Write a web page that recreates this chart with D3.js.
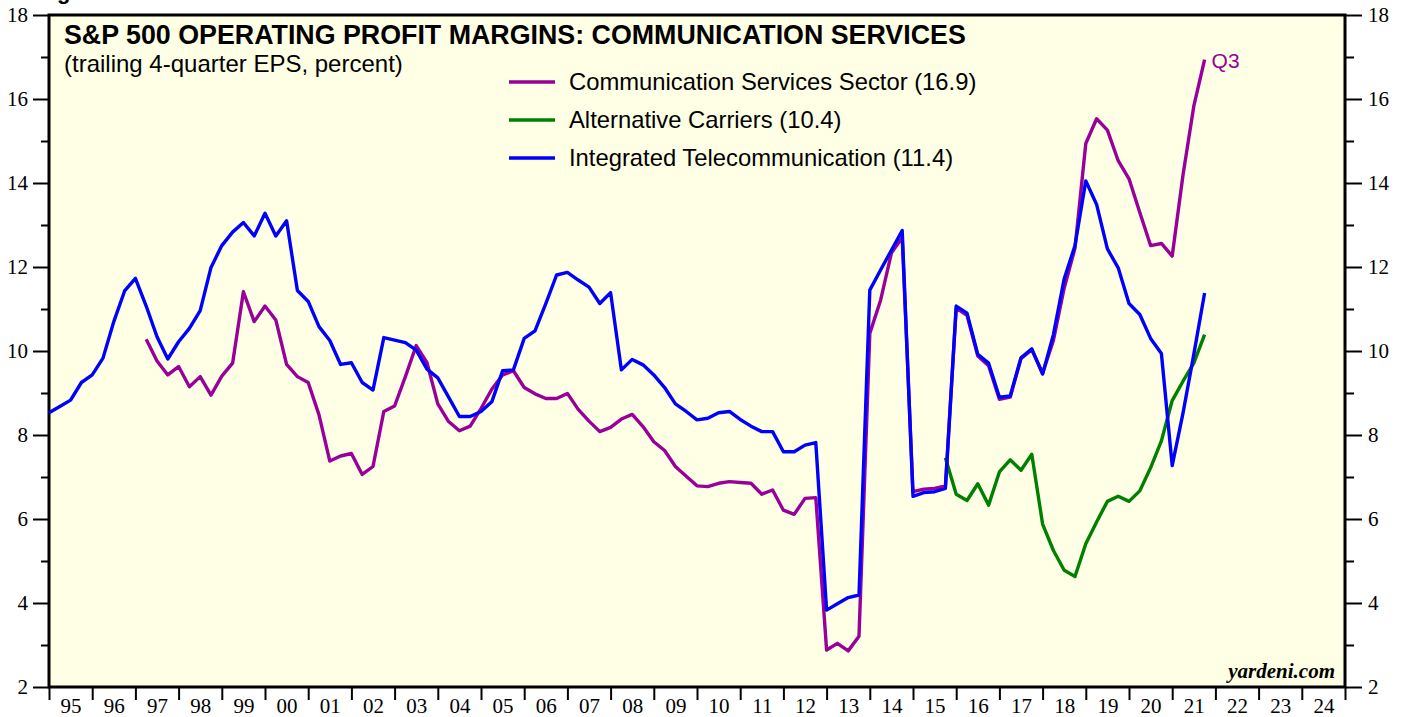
<!DOCTYPE html>
<html>
<head>
<meta charset="utf-8">
<script src="https://cdn.jsdelivr.net/npm/d3@7"></script>
<style>
  body { margin: 0; background: #fff; }
  svg { display: block; }
  .axis path { display: none; }
  .axis line { stroke: #000; stroke-width: 2px; }
  .axis text { font-family: "Liberation Serif", "Times New Roman", serif; font-size: 21px; fill: #000; }
</style>
</head>
<body>
<div id="chart"></div>
<script>
// quarterly data, each point plotted at the end of its quarter
const commStart = 1997.25;   // first point of Communication Services Sector
const commValues = [
  10.28, 9.76, 9.43, 9.63, 9.15, 9.39, 8.95, 9.40, 9.71, 11.41, 10.70, 11.07, 10.74,
  9.68, 9.39, 9.25, 8.48, 7.38, 7.50, 7.56, 7.06, 7.25, 8.56, 8.69, 9.39, 10.13,
  9.72, 8.74, 8.32, 8.10, 8.21, 8.63, 9.09, 9.43, 9.53, 9.13, 8.98, 8.87, 8.87,
  8.99, 8.61, 8.33, 8.08, 8.18, 8.38, 8.49, 8.20, 7.84, 7.63, 7.25, 7.02, 6.79,
  6.77, 6.85, 6.89, 6.87, 6.85, 6.59, 6.69, 6.21, 6.11, 6.49, 6.51, 2.88, 3.04,
  2.86, 3.21, 10.42, 11.21, 12.33, 12.70, 6.65, 6.71, 6.73, 6.79, 11.02, 10.85,
  9.88, 9.65, 8.85, 8.90, 9.82, 10.03, 9.47, 10.25, 11.50, 12.45, 14.94, 15.53,
  15.26, 14.53, 14.10, 13.30, 12.51, 12.56, 12.26, 14.19, 15.83, 16.94
];

const altStart = 2015.75;    // Alternative Carriers
const altValues = [
  7.46, 6.59, 6.44, 6.84, 6.33, 7.12, 7.41, 7.16, 7.54, 5.88, 5.25, 4.78, 4.63,
  5.41, 5.93, 6.42, 6.54, 6.42, 6.67, 7.22, 7.86, 8.82, 9.28, 9.71, 10.39
];

const telStart = 1995.0;     // Integrated Telecommunication
const telValues = [
  8.53, 8.68, 8.83, 9.25, 9.43, 9.83, 10.70, 11.43, 11.73, 11.07, 10.34, 9.81,
  10.22, 10.54, 10.96, 11.99, 12.51, 12.83, 13.06, 12.74, 13.28, 12.74, 13.10,
  11.44, 11.18, 10.58, 10.25, 9.68, 9.72, 9.25, 9.07, 10.32, 10.26, 10.20, 10.02,
  9.57, 9.36, 8.90, 8.44, 8.44, 8.56, 8.79, 9.53, 9.55, 10.30, 10.48, 11.13,
  11.81, 11.87, 11.69, 11.52, 11.13, 11.39, 9.55, 9.80, 9.67, 9.43, 9.13, 8.74,
  8.56, 8.36, 8.40, 8.53, 8.56, 8.37, 8.21, 8.08, 8.08, 7.60, 7.60, 7.76, 7.82,
  3.83, 3.98, 4.13, 4.19, 11.45, 11.93, 12.40, 12.87, 6.54, 6.63, 6.65, 6.73,
  11.07, 10.90, 9.92, 9.71, 8.90, 8.93, 9.84, 10.05, 9.45, 10.39, 11.72, 12.51,
  14.05, 13.49, 12.43, 11.98, 11.13, 10.87, 10.30, 9.94, 7.27, 8.52, 9.92, 11.38
];

const yearLabels = ["95","96","97","98","99","00","01","02","03","04","05","06","07","08","09",
  "10","11","12","13","14","15","16","17","18","19","20","21","22","23","24"];
const yMajor = [2, 4, 6, 8, 10, 12, 14, 16, 18];
const yMinor = [3, 5, 7, 9, 11, 13, 15, 17];

const legendItems = [
  { name: "Communication Services Sector (16.9)", color: "#990099" },
  { name: "Alternative Carriers (10.4)", color: "#008000" },
  { name: "Integrated Telecommunication (11.4)", color: "#0000ff" }
];

var width = 1405, height = 717;
var plotLeft = 49, plotRight = 1345, plotTop = 15, plotBottom = 687;

var svg = d3.select("#chart").append("svg")
  .attr("width", width)
  .attr("height", height);

var x = d3.scaleLinear().domain([1995, 2025]).range([plotLeft, plotRight]);
var y = d3.scaleLinear().domain([2, 18]).range([plotBottom, plotTop]);

// plot background
svg.append("rect")
  .attr("x", plotLeft).attr("y", plotTop)
  .attr("width", plotRight - plotLeft).attr("height", plotBottom - plotTop)
  .attr("fill", "#ffffe5");

// left axis
svg.append("g").attr("class", "axis")
  .attr("transform", "translate(" + plotLeft + ",0)")
  .call(d3.axisLeft(y).tickValues(yMajor).tickSize(16).tickPadding(5).tickFormat(d3.format("d")));
svg.append("g").attr("class", "axis")
  .attr("transform", "translate(" + plotLeft + ",0)")
  .call(d3.axisLeft(y).tickValues(yMinor).tickSize(8).tickFormat(""));

// right axis
svg.append("g").attr("class", "axis")
  .attr("transform", "translate(" + plotRight + ",0)")
  .call(d3.axisRight(y).tickValues(yMajor).tickSize(17).tickPadding(6).tickFormat(d3.format("d")));
svg.append("g").attr("class", "axis")
  .attr("transform", "translate(" + plotRight + ",0)")
  .call(d3.axisRight(y).tickValues(yMinor).tickSize(9).tickFormat(""));

// bottom axis: ticks at year boundaries, labels in between
svg.append("g").attr("class", "axis")
  .attr("transform", "translate(0," + plotBottom + ")")
  .call(d3.axisBottom(x).tickValues(d3.range(1995, 2026)).tickSize(13).tickFormat(""));
svg.append("g").attr("class", "axis x-labels")
  .attr("transform", "translate(0," + plotBottom + ")")
  .call(d3.axisBottom(x)
    .tickValues(yearLabels.map(function (d, i) { return 1995.5 + i; }))
    .tickSize(0).tickPadding(11)
    .tickFormat(function (d, i) { return yearLabels[i]; }));

// frame
svg.append("rect")
  .attr("x", plotLeft).attr("y", plotTop)
  .attr("width", plotRight - plotLeft).attr("height", plotBottom - plotTop)
  .attr("fill", "none")
  .attr("stroke", "#000")
  .attr("stroke-width", 3);

// lines
var line = d3.line()
  .x(function (d) { return x(d.t); })
  .y(function (d) { return y(d.v); });

function toPoints(start, values) {
  return values.map(function (v, i) { return { t: start + i * 0.25, v: v }; });
}

var series = [
  { data: toPoints(commStart, commValues), color: "#990099" },
  { data: toPoints(altStart, altValues), color: "#008000" },
  { data: toPoints(telStart, telValues), color: "#0000ff" }
];

svg.selectAll("path.series")
  .data(series)
  .enter().append("path")
  .attr("class", "series")
  .attr("d", function (d) { return line(d.data); })
  .attr("fill", "none")
  .attr("stroke", function (d) { return d.color; })
  .attr("stroke-width", 3.4)
  .attr("stroke-linejoin", "round");

// Q3 marker on last point
var lastComm = series[0].data[series[0].data.length - 1];
svg.append("text")
  .attr("x", x(lastComm.t) + 7)
  .attr("y", y(lastComm.v) + 8)
  .attr("font-family", "Liberation Sans, Arial, sans-serif")
  .attr("font-size", 21)
  .attr("fill", "#990099")
  .text("Q3");

// titles
svg.append("text")
  .attr("x", 57).attr("y", -1)
  .attr("font-family", "Liberation Sans, Arial, sans-serif")
  .attr("font-weight", "bold")
  .attr("font-size", 22)
  .text("g");

svg.append("text")
  .attr("x", 64).attr("y", 44)
  .attr("font-family", "Liberation Sans, Arial, sans-serif")
  .attr("font-weight", "bold")
  .attr("font-size", 26.8)
  .text("S&P 500 OPERATING PROFIT MARGINS: COMMUNICATION SERVICES");

svg.append("text")
  .attr("x", 64).attr("y", 72)
  .attr("font-family", "Liberation Sans, Arial, sans-serif")
  .attr("font-size", 24)
  .text("(trailing 4-quarter EPS, percent)");

// legend
var legend = svg.selectAll("g.legend")
  .data(legendItems)
  .enter().append("g")
  .attr("class", "legend")
  .attr("transform", function (d, i) { return "translate(509," + (82 + i * 38) + ")"; });

legend.append("line")
  .attr("x1", 0).attr("x2", 46)
  .attr("stroke", function (d) { return d.color; })
  .attr("stroke-width", 3.4);

legend.append("text")
  .attr("x", 60).attr("y", 8)
  .attr("font-family", "Liberation Sans, Arial, sans-serif")
  .attr("font-size", 23.8)
  .text(function (d) { return d.name; });

// source
svg.append("text")
  .attr("x", 1335).attr("y", 678)
  .attr("text-anchor", "end")
  .attr("font-family", "Liberation Serif, Times New Roman, serif")
  .attr("font-weight", "bold")
  .attr("font-style", "italic")
  .attr("font-size", 21)
  .text("yardeni.com");
</script>
</body>
</html>
